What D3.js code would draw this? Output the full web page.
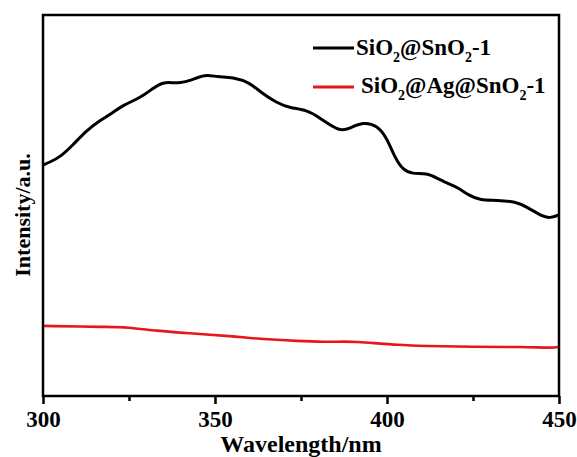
<!DOCTYPE html>
<html>
<head>
<meta charset="utf-8">
<script src="https://cdn.jsdelivr.net/npm/d3@7"></script>
<style>
  body { margin: 0; background: #fff; }
  svg text { font-family: "Liberation Serif", "Times New Roman", Tinos, "DejaVu Serif", serif !important; font-weight: bold; }
</style>
</head>
<body>
<div id="chart"></div>
<script>
var width = 577,
    height = 457,
    margin = {top: 15, right: 18, bottom: 61, left: 43};

// SiO2@SnO2-1 (black)
var wlBlack = [300, 302, 305, 308.7, 312.8, 316.6, 319.5, 323.3, 328.2, 332, 334.9, 337.8, 339.8, 342.7,
               347.1, 350.6, 355.2, 360.2, 363.1, 368, 371.8, 376.7, 380.5, 386.3, 389.2, 393, 397.1,
               400, 402.3, 404.7, 407.3, 411.6, 414.5, 417.4, 420.3, 424.1, 427, 432, 437.8, 440.7,
               445.3, 447.4, 450];
var intBlack = [606, 614, 627, 659, 698, 724, 738, 764, 782, 808, 824, 822, 822, 827,
                845, 837, 837, 822, 798, 769, 756, 751, 730, 693, 703, 719, 711,
                677, 625, 593, 583, 585, 572, 559, 549, 525, 514, 514, 509, 496,
                470, 467, 475];

// SiO2@Ag@SnO2-1 (red)
var wlRed = [300, 318.6, 324.4, 333.1, 341.9, 355.2, 362.2, 374.7, 381.4, 388, 391.3, 396, 402.9, 410.5, 425, 439.5, 448.3, 450];
var intRed = [184, 181, 181, 171, 165, 157, 150, 144, 142, 143, 142, 139, 134, 131, 129, 129, 126, 129];

var xTicks = [300, 350, 400, 450];
var xMinor = [325, 375, 425];

var svg = d3.select('#chart').append('svg')
    .attr('width', width)
    .attr('height', height)
    .attr('font-family', 'Liberation Serif');

var x = d3.scaleLinear().domain([300, 450]).range([margin.left, width - margin.right]);
var y = d3.scaleLinear().domain([0, 1000]).range([height - margin.bottom, margin.top]);

var line = d3.line()
    .x(function(d) { return x(d[0]); })
    .y(function(d) { return y(d[1]); })
    .curve(d3.curveBasis);

var black = d3.zip(wlBlack, intBlack),
    red = d3.zip(wlRed, intRed);

svg.append('path')
    .datum(red)
    .attr('d', line)
    .attr('fill', 'none')
    .attr('stroke', '#e8161b')
    .attr('stroke-width', 2.6);

svg.append('path')
    .datum(black)
    .attr('d', line)
    .attr('fill', 'none')
    .attr('stroke', '#000')
    .attr('stroke-width', 3);

// frame
svg.append('rect')
    .attr('x', margin.left)
    .attr('y', margin.top)
    .attr('width', width - margin.left - margin.right)
    .attr('height', height - margin.top - margin.bottom)
    .attr('fill', 'none')
    .attr('stroke', '#000')
    .attr('stroke-width', 2.5);

// bottom axis
var xAxis = svg.append('g')
    .attr('transform', 'translate(0,' + (height - margin.bottom) + ')')
    .call(d3.axisBottom(x).tickValues(xTicks).tickSize(8).tickPadding(7).tickFormat(d3.format('d')));
xAxis.attr('font-family', null);
xAxis.select('.domain').remove();
xAxis.selectAll('line').attr('stroke-width', 2.5);
xAxis.selectAll('text').attr('font-size', 23).attr('fill', '#000');

svg.append('g')
    .attr('transform', 'translate(0,' + (height - margin.bottom) + ')')
    .call(d3.axisBottom(x).tickValues(xMinor).tickSize(5).tickFormat(''))
    .call(function(g) { g.select('.domain').remove(); })
    .selectAll('line').attr('stroke-width', 2.5);

// axis titles
svg.append('text')
    .attr('x', 301)
    .attr('y', 452)
    .attr('text-anchor', 'middle')
    .attr('font-size', 24)
    .text('Wavelength/nm');

svg.append('text')
    .attr('transform', 'translate(30,215) rotate(-90)')
    .attr('text-anchor', 'middle')
    .attr('font-size', 22)
    .text('Intensity/a.u.');

// legend
var legend = [
  {colour: '#000', y: 48, tx: 356, ty: 55, parts: [['SiO', 0], ['2', 1], ['@SnO', 0], ['2', 1], ['-1', 0]]},
  {colour: '#e8161b', y: 87, tx: 361, ty: 93, parts: [['SiO', 0], ['2', 1], ['@Ag@SnO', 0], ['2', 1], ['-1', 0]]}
];

legend.forEach(function(l) {
  svg.append('line')
    .attr('x1', 313).attr('x2', 354)
    .attr('y1', l.y).attr('y2', l.y)
    .attr('stroke', l.colour)
    .attr('stroke-width', 3);
  var t = svg.append('text')
    .attr('x', l.tx)
    .attr('y', l.ty)
    .attr('font-size', 23);
  var low = false;
  l.parts.forEach(function(p) {
    var sp = t.append('tspan').text(p[0]);
    if (p[1]) {
      sp.attr('font-size', 14).attr('dy', 7);
      low = true;
    } else if (low) {
      sp.attr('dy', -7);
      low = false;
    }
  });
});
</script>
</body>
</html>
